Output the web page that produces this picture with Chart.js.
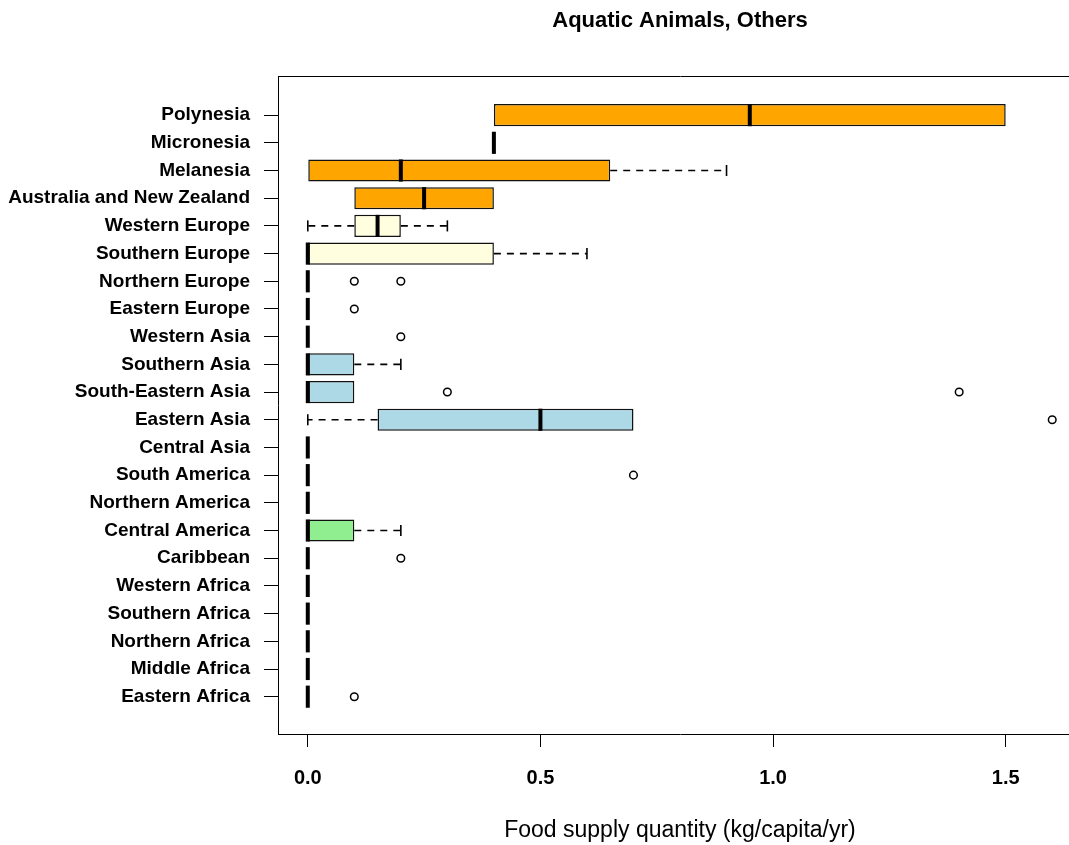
<!DOCTYPE html>
<html>
<head>
<meta charset="utf-8">
<script src="https://cdn.jsdelivr.net/npm/chart.js@4/dist/chart.umd.min.js"></script>
<style>
  html, body { margin: 0; padding: 0; background: #fff; overflow: hidden; }
  #wrap { width: 1090px; height: 845px; }
</style>
</head>
<body>
<div id="wrap"><canvas id="c" width="1090" height="845"></canvas></div>
<script>
// Categories, listed bottom -> top (R boxplot order)
const categories = ['Eastern Africa','Middle Africa','Northern Africa','Southern Africa','Western Africa',
  'Caribbean','Central America','Northern America','South America',
  'Central Asia','Eastern Asia','South-Eastern Asia','Southern Asia','Western Asia',
  'Eastern Europe','Northern Europe','Southern Europe','Western Europe',
  'Australia and New Zealand','Melanesia','Micronesia','Polynesia'];

const whiskerLow  = [0,0,0,0,0, 0,0,0,0, 0,0,   0,0,0, 0,0,0,0,   0.1,0,   0.4,0.4];
const q1          = [0,0,0,0,0, 0,0,0,0, 0,0.15,0,0,0, 0,0,0,0.1, 0.1,0,   0.4,0.4];
const median      = [0,0,0,0,0, 0,0,0,0, 0,0.5, 0,0,0, 0,0,0,0.15,0.25,0.2, 0.4,0.95];
const q3          = [0,0,0,0,0, 0,0.1,0,0, 0,0.7,0.1,0.1,0, 0,0,0.4,0.2, 0.4,0.65, 0.4,1.5];
const whiskerHigh = [0,0,0,0,0, 0,0.2,0,0, 0,0.7,0.1,0.2,0, 0,0,0.6,0.3, 0.4,0.9,  0.4,1.5];
const outliers    = [[0.1],[],[],[],[], [0.2],[],[],[0.7], [],[1.6],[0.3,1.4],[],[0.2], [0.1],[0.1,0.2],[],[], [],[],[],[]];

const boxColors = ['#FFFFFF','#FFFFFF','#FFFFFF','#FFFFFF','#FFFFFF',
  '#90EE90','#90EE90','#90EE90','#90EE90',
  '#ADD8E6','#ADD8E6','#ADD8E6','#ADD8E6','#ADD8E6',
  '#FFFFE0','#FFFFE0','#FFFFE0','#FFFFE0',
  '#FFA500','#FFA500','#FFA500','#FFA500'];

const xTickValues = [0, 0.5, 1.0, 1.5];
const xTickLabels = ['0.0', '0.5', '1.0', '1.5'];
const titleText = 'Aquatic Animals, Others';
const xAxisTitle = 'Food supply quantity (kg/capita/yr)';

const positions = categories.map((c, i) => i + 1);
const HALF_BOX = 0.4;   // R boxwex 0.8
const HALF_CAP = 0.2;   // staple = half box
const FONT = "'Liberation Sans', Arial, Helvetica, sans-serif";

const datasets = [];
// outliers
datasets.push({
  type: 'scatter', xAxisID: 'x', yAxisID: 'y', order: 0,
  data: outliers.flatMap((arr, i) => arr.map(v => ({ x: v, y: positions[i] }))),
  pointStyle: 'circle', pointRadius: 3.8, pointBorderWidth: 1.5,
  pointBorderColor: '#000', pointBackgroundColor: 'rgba(255,255,255,0)'
});
// medians
positions.forEach((p, i) => {
  datasets.push({
    type: 'line', xAxisID: 'x', yAxisID: 'y', order: 1,
    data: [{ x: median[i], y: p - HALF_BOX }, { x: median[i], y: p + HALF_BOX }],
    borderColor: '#000', borderWidth: 4, pointRadius: 0, borderCapStyle: 'butt'
  });
});
// whiskers + staples
function addWhisker(p, from, to) {
  datasets.push({
    type: 'line', xAxisID: 'x', yAxisID: 'y', order: 2,
    data: [{ x: from, y: p }, { x: to, y: p }],
    borderColor: '#000', borderWidth: 1.6, borderDash: [7, 6], pointRadius: 0
  });
  datasets.push({
    type: 'line', xAxisID: 'x', yAxisID: 'y', order: 2,
    data: [{ x: to, y: p - HALF_CAP }, { x: to, y: p + HALF_CAP }],
    borderColor: '#000', borderWidth: 1.6, pointRadius: 0
  });
}
positions.forEach((p, i) => {
  if (whiskerLow[i] < q1[i]) addWhisker(p, q1[i], whiskerLow[i]);
  if (whiskerHigh[i] > q3[i]) addWhisker(p, q3[i], whiskerHigh[i]);
});
// boxes
datasets.push({
  type: 'bar', indexAxis: 'y', xAxisID: 'x', yAxisID: 'y', order: 5,
  data: positions.map((p, i) => ({ y: p, x: [q1[i], q3[i]] })),
  backgroundColor: boxColors, borderColor: '#111', borderWidth: 1.5,
  borderSkipped: false, barPercentage: 0.8, categoryPercentage: 1.0
});

new Chart(document.getElementById('c'), {
  type: 'bar',
  data: { datasets },
  options: {
    responsive: false,
    devicePixelRatio: 1,
    animation: false,
    events: [],
    layout: { padding: { left: 0, right: 8, top: 0, bottom: 0 } },
    plugins: { legend: { display: false }, tooltip: { enabled: false }, title: { display: false } },
    scales: {
      x: {
        type: 'linear', position: 'bottom', min: -0.064, max: 1.664, offset: false,
        afterBuildTicks: (a) => { a.ticks = xTickValues.map(v => ({ value: v })); },
        afterFit: (a) => { a.height = 111; },
        grid: { display: true, offset: false, drawOnChartArea: false, drawTicks: true, tickLength: 13, color: '#000', lineWidth: 1 },
        border: { display: true, color: '#000', width: 1 },
        ticks: {
          autoSkip: false, maxRotation: 0, padding: 19, color: '#000',
          font: { family: FONT, size: 20, weight: 'bold' },
          callback: (v) => xTickLabels[xTickValues.indexOf(v)]
        },
        title: { display: true, text: xAxisTitle, color: '#000',
          font: { family: FONT, size: 23, weight: 'normal' }, padding: { top: 0, bottom: 1 } }
      },
      x2: {
        type: 'linear', position: 'top', min: -0.064, max: 1.664, offset: false,
        afterFit: (a) => { a.height = 76; },
        grid: { display: true, offset: false, drawOnChartArea: false, drawTicks: false },
        border: { display: true, color: '#000', width: 1 },
        ticks: { display: false },
        title: { display: true, text: titleText, color: '#000',
          font: { family: FONT, size: 22, weight: 'bold' }, padding: { top: 7.5, bottom: 0 } }
      },
      y: {
        type: 'linear', position: 'left', min: -0.347, max: 23.413, offset: false,
        afterBuildTicks: (a) => { a.ticks = positions.map(v => ({ value: v })); },
        afterFit: (a) => { a.width = 278; },
        grid: { display: true, offset: false, drawOnChartArea: false, drawTicks: true, tickLength: 14, color: '#000', lineWidth: 1 },
        border: { display: true, color: '#000', width: 1 },
        ticks: {
          autoSkip: false, padding: 14, color: '#000',
          font: { family: FONT, size: 19, weight: 'bold' },
          callback: (v) => categories[v - 1]
        }
      }
    }
  }
});
</script>
</body>
</html>
